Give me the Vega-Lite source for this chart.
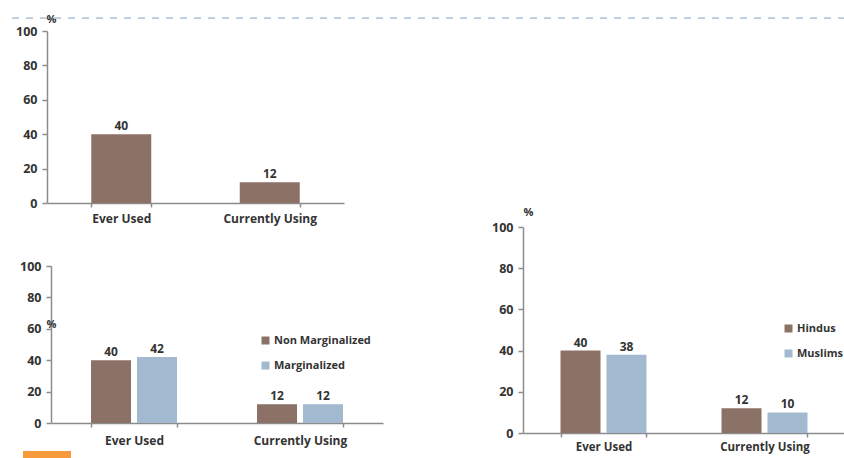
{
  "$schema": "https://vega.github.io/schema/vega-lite/v6.json",
  "padding": {"left": 10, "top": 13, "right": 0, "bottom": 0},
  "background": "white",
  "bounds": "flush",
  "spacing": 4,
  "config": {
    "view": {"stroke": null},
    "font": "Open Sans",
    "axis": {
      "domainColor": "#8c8c8c", "domainWidth": 1.5, "tickColor": "#8c8c8c", "tickWidth": 1.5,
      "labelColor": "#333333", "labelFont": "Open Sans", "labelFontWeight": "bold", "grid": false, "labelOverlap": false
    },
    "legend": {"labelFont": "Open Sans", "labelColor": "#333333", "labelFontSize": 11, "labelFontWeight": "bold"}
  },
  "datasets": {
    "overall": [
      {"cat": "Ever Used", "value": 40},
      {"cat": "Currently Using", "value": 12}
    ],
    "marg": [
      {"cat": "Ever Used", "group": "Non Marginalized", "value": 40},
      {"cat": "Ever Used", "group": "Marginalized", "value": 42},
      {"cat": "Currently Using", "group": "Non Marginalized", "value": 12},
      {"cat": "Currently Using", "group": "Marginalized", "value": 12}
    ],
    "rel": [
      {"cat": "Ever Used", "group": "Hindus", "value": 40},
      {"cat": "Ever Used", "group": "Muslims", "value": 38},
      {"cat": "Currently Using", "group": "Hindus", "value": 12},
      {"cat": "Currently Using", "group": "Muslims", "value": 10}
    ],
    "line": [{"level": 107.5}],
    "swatch": [{"a": 0, "b": 1}]
  },
  "vconcat": [
    {
      "width": 834,
      "height": 189,
      "layer": [
        {
          "data": {"name": "overall"},
          "encoding": {
            "x": {
              "field": "cat", "type": "nominal", "sort": ["Ever Used", "Currently Using"],
              "scale": {"range": [36, 333], "paddingInner": 0.596, "paddingOuter": 0.298},
              "axis": {"title": null, "labelAngle": 0, "tickBand": "extent", "tickSize": 4, "labelPadding": 6, "labelFontSize": 12}
            },
            "y": {
              "field": "value", "type": "quantitative",
              "scale": {"domain": [0, 100], "range": [189, 17], "nice": false},
              "axis": {
                "values": [0, 20, 40, 60, 80, 100], "labelOverlap": false, "offset": -36, "tickSize": 5, "labelPadding": 5, "labelFontSize": 12.5,
                "title": "%", "titleAngle": 0, "titleX": -1, "titleY": 5, "titleAlign": "left", "titleBaseline": "middle",
                "titleFont": "Open Sans", "titleFontSize": 11, "titleFontWeight": "bold", "titleColor": "#333333"
              }
            }
          },
          "layer": [
            {"mark": {"type": "bar", "color": "#8c7167"}},
            {
              "mark": {"type": "text", "dy": -8, "fontSize": 12, "fontWeight": "bold", "color": "#333333"},
              "encoding": {"text": {"field": "value", "type": "quantitative"}}
            }
          ]
        },
        {
          "data": {"name": "line"},
          "mark": {"type": "rule", "color": "#b7c9dc", "strokeWidth": 1.8, "strokeDash": [7, 7]},
          "encoding": {"y": {"field": "level", "type": "quantitative", "scale": {"domain": [0, 100], "range": [189, 17], "nice": false}, "axis": null}}
        }
      ],
      "resolve": {"scale": {"y": "independent"}, "axis": {"y": "independent"}}
    },
    {
      "hconcat": [
        {
          "width": 372,
          "height": 216,
          "data": {"name": "marg"},
          "encoding": {
            "x": {
              "field": "cat", "type": "nominal", "sort": ["Ever Used", "Currently Using"],
              "scale": {"range": [40, 372], "paddingInner": 0.482, "paddingOuter": 0.241},
              "axis": {"title": null, "labelAngle": 0, "tickBand": "extent", "tickSize": 4, "labelPadding": 8, "labelFontSize": 12}
            },
            "xOffset": {"field": "group", "type": "nominal", "sort": ["Non Marginalized", "Marginalized"], "scale": {"paddingInner": 0.13}},
            "y": {
              "field": "value", "type": "quantitative",
              "scale": {"domain": [0, 100], "range": [216, 59], "nice": false},
              "axis": {
                "values": [0, 20, 40, 60, 80, 100], "offset": -40, "tickSize": 5, "labelPadding": 5, "labelFontSize": 12.5,
                "title": "%", "titleAngle": 0, "titleX": -5, "titleY": 117, "titleAlign": "left", "titleBaseline": "middle",
                "titleFont": "Open Sans", "titleFontSize": 11, "titleFontWeight": "bold", "titleColor": "#333333"
              }
            }
          },
          "layer": [
            {
              "mark": {"type": "bar"},
              "encoding": {
                "color": {
                  "field": "group", "type": "nominal", "sort": ["Non Marginalized", "Marginalized"],
                  "scale": {"domain": ["Non Marginalized", "Marginalized"], "range": ["#8c7167", "#a3b9cf"]},
                  "legend": {"title": null, "orient": "none", "legendX": 249, "legendY": 128, "symbolType": "square", "symbolSize": 64, "symbolOpacity": 1, "rowPadding": 13, "labelOffset": 3}
                }
              }
            },
            {
              "mark": {"type": "text", "dy": -8, "fontSize": 12, "fontWeight": "bold", "color": "#333333"},
              "encoding": {"text": {"field": "value", "type": "quantitative"}}
            }
          ]
        },
        {
          "width": 322,
          "height": 226,
          "data": {"name": "rel"},
          "encoding": {
            "x": {
              "field": "cat", "type": "nominal", "sort": ["Ever Used", "Currently Using"],
              "scale": {"paddingInner": 0.466, "paddingOuter": 0.233},
              "axis": {"title": null, "labelAngle": 0, "tickBand": "extent", "tickSize": 4, "labelPadding": 4, "labelFontSize": 11.5}
            },
            "xOffset": {"field": "group", "type": "nominal", "sort": ["Hindus", "Muslims"], "scale": {"paddingInner": 0.13}},
            "y": {
              "field": "value", "type": "quantitative",
              "scale": {"domain": [0, 100], "range": [226, 20], "nice": false},
              "axis": {
                "values": [0, 20, 40, 60, 80, 100], "tickSize": 5, "labelPadding": 5, "labelFontSize": 12.5,
                "title": "%", "titleAngle": 0, "titleX": 0, "titleY": 5, "titleAlign": "left", "titleBaseline": "middle",
                "titleFont": "Open Sans", "titleFontSize": 11, "titleFontWeight": "bold", "titleColor": "#333333"
              }
            }
          },
          "layer": [
            {
              "mark": {"type": "bar"},
              "encoding": {
                "color": {
                  "field": "group", "type": "nominal", "sort": ["Hindus", "Muslims"],
                  "scale": {"domain": ["Hindus", "Muslims"], "range": ["#8c7167", "#a3b9cf"]},
                  "legend": {"title": null, "orient": "none", "legendX": 260, "legendY": 116, "symbolType": "square", "symbolSize": 64, "symbolOpacity": 1, "rowPadding": 13, "labelOffset": 3}
                }
              }
            },
            {
              "mark": {"type": "text", "dy": -8, "fontSize": 12, "fontWeight": "bold", "color": "#333333"},
              "encoding": {"text": {"field": "value", "type": "quantitative"}}
            }
          ]
        }
      ],
      "spacing": 140,
      "bounds": "flush",
      "resolve": {"scale": {"color": "independent", "x": "independent", "y": "independent", "xOffset": "independent"}, "legend": {"color": "independent"}}
    },
    {
      "width": 60,
      "height": 248,
      "data": {"name": "swatch"},
      "mark": {"type": "rect", "color": "#f79a3c"},
      "encoding": {
        "x": {"field": "a", "type": "quantitative", "scale": {"domain": [0, 1], "range": [12, 60]}, "axis": null},
        "x2": {"field": "b"},
        "y": {"field": "a", "type": "quantitative", "scale": {"domain": [0, 1], "range": [248, 240]}, "axis": null},
        "y2": {"field": "b"}
      }
    }
  ]
}
